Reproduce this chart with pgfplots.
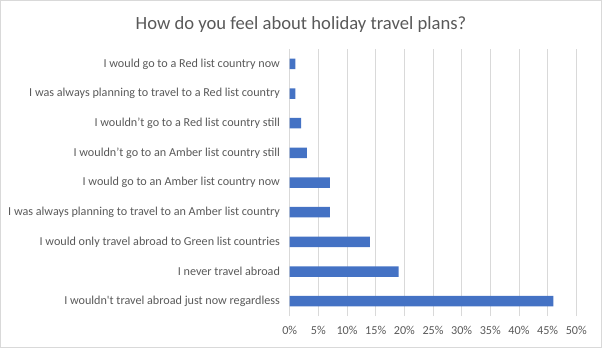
\documentclass[border=0pt]{standalone}
\usepackage{pgfplots}
\pgfplotsset{compat=1.18}
\usepackage{fontspec}
\setmainfont{Carlito}[Ligatures=TeXOff]
\definecolor{txt}{HTML}{595959}
\definecolor{gridc}{HTML}{D9D9D9}
\definecolor{barc}{HTML}{4472C4}
\begin{document}
\begin{tikzpicture}[x=1bp,y=1bp]
\useasboundingbox (0,0) rectangle (602,348);
\draw[gridc, line width=1bp] (0.5,0.5) rectangle (601.5,347.5);
\node[txt, font=\fontsize{18.7}{22}\selectfont] at (301,323) {How do you feel about holiday travel plans?};
\begin{axis}[
  at={(289.7bp,32bp)}, anchor=south west,
  scale only axis, width=286.6bp, height=267bp,
  xmin=0, xmax=50, ymin=-0.5, ymax=8.5,
  xbar, bar width=10.5bp,
  axis line style={draw=none},
  xmajorgrids, major grid style={gridc, line width=0.9bp},
  xtick={0,5,...,50},
  xticklabels={0\%,5\%,10\%,15\%,20\%,25\%,30\%,35\%,40\%,45\%,50\%},
  ytick={0,...,8},
  yticklabels={
    I wouldn't travel abroad just now regardless,
    I never travel abroad,
    I would only travel abroad to Green list countries,
    I was always planning to travel to an Amber list country,
    I would go to an Amber list country now,
    I wouldn’t go to an Amber list country still,
    I wouldn’t go to a Red list country still,
    I was always planning to travel to a Red list country,
    I would go to a Red list country now},
  tick style={draw=none},
  ticklabel style={txt, font=\fontsize{12.2}{14}\selectfont},
  yticklabel style={xshift=-2bp},
  xticklabel style={yshift=-7bp},
]
\addplot[fill=barc, draw=none] coordinates {
  (46,0) (19,1) (14,2) (7,3) (7,4) (3,5) (2,6) (1,7) (1,8)};
\end{axis}
\end{tikzpicture}
\end{document}
